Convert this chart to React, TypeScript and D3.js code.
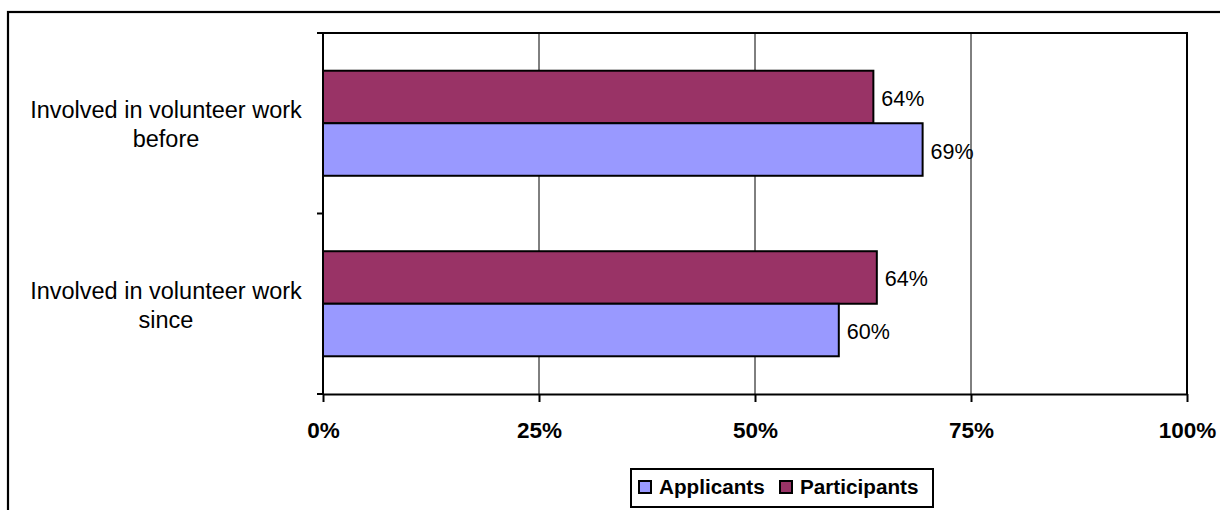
import { useEffect, useRef } from 'react';
import * as d3 from 'd3';

const categories = ['Involved in volunteer work before', 'Involved in volunteer work since'];
const categoryLines = [
  ['Involved in volunteer work', 'before'],
  ['Involved in volunteer work', 'since'],
];
const seriesNames = ['Applicants', 'Participants'];
const applicants = [69.4, 59.7];
const participants = [63.7, 64.1];
const xTicks = [0, 25, 50, 75, 100];

const colors: Record<string, string> = {
  Applicants: '#9999FF',
  Participants: '#993366',
};

const App: React.FC = () => {
  const chartRef = useRef<SVGSVGElement | null>(null);

  useEffect(() => {
    if (!chartRef.current) return;
    const svg = d3.select(chartRef.current);
    svg.selectAll('*').remove();

    // outer chart border, runs off the right and bottom edges
    svg.append('rect')
      .attr('x', 8).attr('y', 12)
      .attr('width', 1240).attr('height', 520)
      .attr('fill', 'none').attr('stroke', '#000').attr('stroke-width', 2.2);

    const left = 323, right = 1187, top = 33, bottom = 394;

    const x = d3.scaleLinear().domain([0, 100]).range([left, right]);
    const y = d3.scaleBand<string>()
      .domain(categories)
      .range([top, bottom])
      .paddingInner(0.418)
      .paddingOuter(0.209);
    const ySub = d3.scaleBand<string>()
      .domain(['Participants', 'Applicants'])
      .range([0, y.bandwidth()]);

    // gridlines
    svg.append('g')
      .selectAll('line')
      .data(xTicks.filter(t => t > 0 && t < 100))
      .enter().append('line')
      .attr('x1', d => x(d)).attr('x2', d => x(d))
      .attr('y1', top).attr('y2', bottom)
      .attr('stroke', '#000').attr('stroke-width', 1);

    // plot frame top and right
    svg.append('path')
      .attr('d', `M${left},${top}H${right}V${bottom}`)
      .attr('fill', 'none').attr('stroke', '#000').attr('stroke-width', 2);

    const rows = categories.map((c, i) => ({
      cat: c,
      values: [
        { series: 'Participants', value: participants[i] },
        { series: 'Applicants', value: applicants[i] },
      ],
    }));

    const groups = svg.append('g')
      .selectAll('g')
      .data(rows)
      .enter().append('g')
      .attr('transform', d => `translate(0,${y(d.cat)})`);

    groups.selectAll('rect')
      .data(d => d.values)
      .enter().append('rect')
      .attr('x', x(0))
      .attr('y', d => ySub(d.series)!)
      .attr('width', d => x(d.value) - x(0))
      .attr('height', ySub.bandwidth())
      .attr('fill', d => colors[d.series])
      .attr('stroke', '#000')
      .attr('stroke-width', 2);

    groups.selectAll('text')
      .data(d => d.values)
      .enter().append('text')
      .attr('x', d => x(d.value) + 8)
      .attr('y', d => ySub(d.series)! + ySub.bandwidth() / 2 + 9)
      .attr('font-family', 'Liberation Sans, Arial, sans-serif')
      .attr('font-size', 21.5)
      .attr('fill', '#000')
      .text(d => `${Math.round(d.value)}%`);

    // x axis
    const xAxis = svg.append('g')
      .attr('transform', `translate(0,${bottom})`)
      .call(d3.axisBottom(x).tickValues(xTicks).tickSize(8).tickSizeOuter(0).tickFormat(d => `${d}%`));
    xAxis.select('.domain').attr('stroke', '#000').attr('stroke-width', 2);
    xAxis.selectAll('.tick line').attr('stroke', '#000').attr('stroke-width', 2);
    xAxis.selectAll('.tick text')
      .attr('y', 28)
      .attr('dy', '0.71em')
      .attr('font-family', 'Liberation Sans, Arial, sans-serif')
      .attr('font-size', 22.5)
      .attr('font-weight', 'bold')
      .attr('fill', '#000');

    // y axis with ticks at category boundaries
    const yEdges = [top, top + y.step() * 1, bottom];
    svg.append('line')
      .attr('x1', left).attr('x2', left)
      .attr('y1', top).attr('y2', bottom)
      .attr('stroke', '#000').attr('stroke-width', 2);
    svg.append('g')
      .selectAll('line')
      .data(yEdges)
      .enter().append('line')
      .attr('x1', left - 6).attr('x2', left)
      .attr('y1', d => d).attr('y2', d => d)
      .attr('stroke', '#000').attr('stroke-width', 2);

    // category labels
    const catLabels = svg.append('g')
      .selectAll('text')
      .data(categories)
      .enter().append('text')
      .attr('text-anchor', 'middle')
      .attr('font-family', 'Liberation Sans, Arial, sans-serif')
      .attr('font-size', 23.5)
      .attr('fill', '#000');
    catLabels.each(function (d, i) {
      const cy = y(d)! + y.bandwidth() / 2;
      categoryLines[i].forEach((line, j) => {
        d3.select(this).append('tspan')
          .attr('x', 166)
          .attr('y', cy - 5 + j * 29)
          .text(line);
      });
    });

    // legend
    const legend = svg.append('g');
    legend.append('rect')
      .attr('x', 631).attr('y', 469)
      .attr('width', 302).attr('height', 38)
      .attr('fill', '#fff').attr('stroke', '#000').attr('stroke-width', 2);
    const legendX = [639, 780];
    seriesNames.forEach((s, i) => {
      legend.append('rect')
        .attr('x', legendX[i]).attr('y', 481)
        .attr('width', 12).attr('height', 12)
        .attr('fill', colors[s]).attr('stroke', '#000').attr('stroke-width', 2);
      legend.append('text')
        .attr('x', legendX[i] + 20).attr('y', 494)
        .attr('font-family', 'Liberation Sans, Arial, sans-serif')
        .attr('font-size', 20.7)
        .attr('font-weight', 'bold')
        .attr('fill', '#000')
        .text(s);
    });
  }, []);

  return (
    <>
      <style>{`body { margin: 0; }`}</style>
      <svg ref={chartRef} width={1220} height={510} style={{ display: 'block', background: '#fff' }}></svg>
    </>
  );
};

export default App;
